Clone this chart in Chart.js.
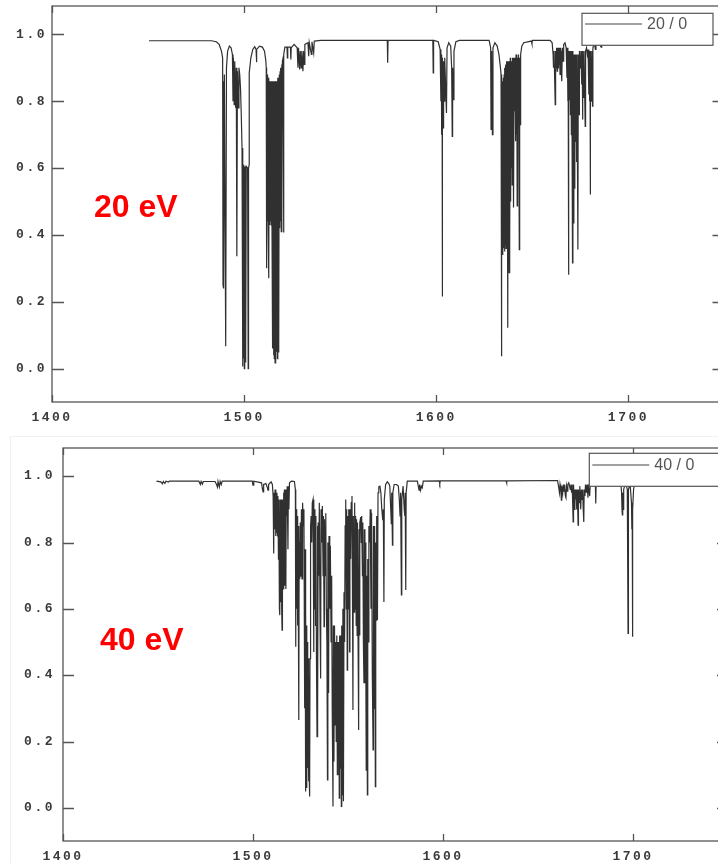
<!DOCTYPE html>
<html>
<head>
<meta charset="utf-8">
<script src="https://cdn.jsdelivr.net/npm/chart.js@4.4.1/dist/chart.umd.min.js"></script>
<style>
  html, body { margin: 0; padding: 0; background: #fff; }
  body { width: 718px; height: 863px; overflow: hidden; position: relative; }
  canvas.panel { position: absolute; left: 0; }
  #frame40 { position: absolute; left: 10px; top: 436px; width: 740px; height: 440px; border: 1px solid #f0f0f0; }
</style>
</head>
<body>
<div id="frame40"></div>
<canvas id="c20" class="panel" width="745" height="425" style="top:0"></canvas>
<canvas id="c40" class="panel" width="745" height="438" style="top:425px"></canvas>
<script>
// Axis settings
const xTicks = [1400, 1500, 1600, 1700];
const yTicks = [0.0, 0.2, 0.4, 0.6, 0.8, 1.0];
const xRange = [1400, 1750];
const yRange = [-0.1, 1.085];

// ---- 20 eV trace, [position, transmission] vertices band by band ----
const lead20 = [[1450.5,0.981],[1483.0,0.981],[1485.5,0.978],[1487.0,0.970],[1488.2,0.950]];
const band20a = [
  [1488.8,0.93],[1489.0,0.25],[1489.2,0.86],[1489.4,0.24],[1489.7,0.88],[1490.4,0.067],[1490.8,0.90],
  [1491.4,0.95],[1492.3,0.965],[1493.2,0.96],[1493.9,0.94],[1494.2,0.80],[1494.4,0.93],[1494.8,0.79],
  [1495.1,0.92],[1495.6,0.78],[1495.9,0.90],[1496.2,0.336],[1496.5,0.89],[1497.0,0.78],[1497.3,0.90],
  [1497.7,0.88],[1498.1,0.84],[1498.5,0.76],[1498.9,0.66],[1499.2,0.61],[1499.35,0.006],[1499.5,0.61],
  [1499.7,0.03],[1499.9,0.605],[1500.1,0.0],[1500.3,0.605],[1500.5,0.02],[1500.7,0.605],[1500.9,0.05],
  [1501.1,0.605],[1501.8,0.60],[1502.1,0.0],[1502.3,0.60],[1502.6,0.61],[1502.65,0.885],[1503.5,0.93],
  [1504.5,0.955],[1505.5,0.963],[1506.2,0.955],[1506.4,0.917],[1506.6,0.955],[1508.0,0.965],[1509.5,0.962],
  [1510.6,0.95],[1511.3,0.92]
];
const band20b = [
  [1511.5,0.90],[1511.7,0.30],[1511.9,0.88],[1512.1,0.44],[1512.3,0.87],[1512.5,0.43],[1512.7,0.87],
  [1512.9,0.27],[1513.1,0.86],[1513.3,0.43],[1513.5,0.86],[1513.7,0.44],[1513.9,0.86],[1514.1,0.43],
  [1514.3,0.86],[1514.5,0.42],[1514.7,0.86],[1514.9,0.06],[1515.1,0.86],[1515.3,0.04],[1515.5,0.86],
  [1515.7,0.03],[1515.9,0.86],[1516.1,0.017],[1516.3,0.86],[1516.5,0.04],[1516.7,0.86],[1516.9,0.05],
  [1517.1,0.86],[1517.3,0.03],[1517.5,0.87],[1517.7,0.05],[1517.9,0.87],[1518.1,0.07],[1518.3,0.88],
  [1518.5,0.42],[1518.7,0.89],[1518.9,0.44],[1519.1,0.90],[1519.3,0.41],[1519.5,0.91],[1519.7,0.45],
  [1519.9,0.92],[1520.3,0.93],[1520.5,0.407],[1520.7,0.94],[1521.2,0.962],[1522.3,0.962],[1522.5,0.93],
  [1522.7,0.962],[1524.1,0.962],[1524.3,0.925],[1524.5,0.96],[1526.0,0.97],[1527.6,0.96],[1528.0,0.90],
  [1528.3,0.96],[1528.9,0.895],[1529.2,0.95],[1529.7,0.90],[1530.0,0.95],[1530.6,0.89],[1530.9,0.95],
  [1531.3,0.91],[1531.6,0.97],[1533.2,0.975],[1533.6,0.935],[1533.9,0.975],[1535.0,0.94],[1535.3,0.978],
  [1536.2,0.945],[1536.5,0.98],[1540.0,0.982]
];
const band20c = [
  [1574.5,0.982],[1574.7,0.915],[1574.9,0.982],[1598.2,0.982],[1598.4,0.885],[1598.6,0.982],
  [1601.0,0.978],[1602.0,0.955],[1602.4,0.80],[1602.6,0.94],[1602.8,0.70],[1603.0,0.93],[1603.1,0.216],
  [1603.3,0.92],[1603.6,0.72],[1603.8,0.92],[1604.1,0.80],[1604.4,0.93],[1605.3,0.765],[1605.6,0.96],
  [1606.5,0.975],[1607.5,0.965],[1608.0,0.90],[1608.3,0.695],[1608.5,0.90],[1608.9,0.805],[1609.2,0.95],
  [1610.2,0.978],[1612.0,0.982]
];
const band20d = [
  [1627.5,0.982],[1628.3,0.96],[1628.5,0.716],[1628.8,0.95],[1629.2,0.70],[1629.5,0.96],[1630.5,0.975],
  [1631.7,0.965],[1632.6,0.94],[1633.4,0.90],[1633.7,0.88],[1633.9,0.037],[1634.1,0.87],[1634.3,0.35],
  [1634.5,0.86],[1634.7,0.34],[1634.9,0.87],[1635.1,0.36],[1635.3,0.88],[1635.5,0.35],[1635.7,0.90],
  [1635.9,0.37],[1636.1,0.91],[1636.3,0.36],[1636.5,0.92],[1636.7,0.38],[1636.9,0.92],[1637.2,0.122],
  [1637.4,0.92],[1637.6,0.36],[1637.8,0.91],[1637.9,0.287],[1638.1,0.92],[1638.3,0.37],[1638.5,0.93],
  [1638.7,0.50],[1638.9,0.92],[1639.1,0.60],[1639.3,0.92],[1639.5,0.55],[1639.7,0.93],[1640.0,0.70],
  [1640.1,0.93],[1640.3,0.482],[1640.5,0.93],[1640.8,0.77],[1641.0,0.93],[1641.3,0.68],[1641.5,0.94],
  [1641.8,0.70],[1642.0,0.93],[1642.1,0.487],[1642.3,0.93],[1642.6,0.73],[1642.8,0.94],[1643.2,0.356],
  [1643.4,0.93],[1643.7,0.73],[1643.9,0.94],[1644.5,0.965],[1645.5,0.975],[1649.5,0.98],[1649.8,0.972],
  [1650.0,0.982]
];
const band20e = [
  [1659.3,0.982],[1660.3,0.975],[1660.8,0.94],[1661.0,0.90],[1661.3,0.95],[1661.9,0.79],[1662.1,0.95],
  [1662.4,0.90],[1662.6,0.96],[1662.9,0.89],[1663.1,0.96],[1663.4,0.90],[1663.6,0.96],[1663.9,0.91],
  [1664.1,0.96],[1664.4,0.88],[1664.7,0.96],[1665.0,0.90],[1665.2,0.95],[1665.4,0.86],[1665.6,0.96],
  [1666.0,0.92],[1666.3,0.97],[1667.0,0.975],[1667.6,0.96],[1668.0,0.87],[1668.2,0.96],[1668.5,0.80],
  [1668.6,0.95],[1668.8,0.281],[1669.0,0.95],[1669.3,0.805],[1669.5,0.95],[1669.8,0.76],[1670.0,0.95],
  [1670.3,0.70],[1670.5,0.95],[1670.9,0.316],[1671.1,0.95],[1671.4,0.436],[1671.6,0.94],[1671.9,0.54],
  [1672.1,0.94],[1672.5,0.68],[1672.7,0.94],[1673.0,0.62],[1673.2,0.94],[1673.7,0.356],[1673.9,0.94],
  [1674.3,0.76],[1674.5,0.95],[1675.0,0.90],[1675.3,0.95],[1675.7,0.85],[1675.9,0.95],[1676.1,0.745],
  [1676.3,0.95],[1676.7,0.81],[1676.9,0.95],[1677.5,0.725],[1677.7,0.95],[1678.2,0.96],[1678.8,0.93],
  [1679.0,0.955],[1679.4,0.82],[1679.6,0.95],[1679.8,0.80],[1680.0,0.95],[1680.1,0.521],[1680.3,0.95],
  [1680.7,0.80],[1680.9,0.95],[1681.3,0.785],[1681.5,0.96],[1682.2,0.975],[1682.8,0.955],[1683.1,0.978],
  [1684.5,0.975],[1685.8,0.962],[1686.1,0.98],[1690.0,0.982],[1692.5,0.975],[1692.7,0.983],[1698.0,0.982],
  [1698.5,0.972],[1698.7,0.983],[1700.5,0.982]
];

// ---- 40 eV trace ----
const lead40 = [
  [1449.2,0.985],[1451.5,0.983],[1452.3,0.977],[1452.8,0.984],[1453.6,0.978],[1454.2,0.985],[1455.5,0.982],
  [1456.0,0.985],[1471.5,0.985],[1472.3,0.975],[1472.7,0.984],[1473.4,0.976],[1473.8,0.984],[1480.0,0.984],
  [1480.8,0.975],[1481.3,0.967],[1481.6,0.984],[1482.3,0.968],[1482.7,0.984],[1483.3,0.975],[1483.8,0.985],
  [1499.6,0.985],[1500.0,0.973],[1500.4,0.985],[1504.5,0.98],[1505.0,0.96],[1505.3,0.953],[1505.6,0.975],
  [1506.8,0.978],[1507.6,0.965],[1507.9,0.958],[1508.2,0.975],[1509.5,0.983],[1510.2,0.975]
];
const band40a = [
  [1510.6,0.94],[1510.9,0.767],[1511.1,0.95],[1511.4,0.84],[1511.6,0.96],[1511.9,0.82],[1512.1,0.96],
  [1512.4,0.83],[1512.6,0.95],[1512.9,0.82],[1513.1,0.94],[1513.4,0.75],[1513.6,0.93],[1513.9,0.60],
  [1514.1,0.581],[1514.3,0.93],[1514.6,0.62],[1514.8,0.93],[1515.1,0.60],[1515.3,0.536],[1515.5,0.93],
  [1515.8,0.66],[1516.0,0.95],[1516.3,0.66],[1516.5,0.96],[1516.8,0.67],[1517.0,0.96],[1517.3,0.66],
  [1517.5,0.96],[1517.8,0.88],[1518.0,0.97],[1518.4,0.78],[1518.6,0.97],[1518.9,0.90],[1519.2,0.98],
  [1520.2,0.985],[1521.8,0.984],[1522.3,0.96]
];
const band40b = [
  [1522.5,0.486],[1522.7,0.90],[1523.0,0.60],[1523.2,0.88],[1523.5,0.55],[1523.7,0.85],[1524.1,0.265],
  [1524.3,0.80],[1524.6,0.69],[1524.9,0.86],[1525.2,0.697],[1525.5,0.90],[1525.8,0.69],[1526.1,0.92],
  [1526.5,0.85],[1526.8,0.90],[1527.2,0.30],[1527.4,0.78],[1527.6,0.049],[1527.8,0.60],[1528.0,0.10],
  [1528.2,0.55],[1528.4,0.06],[1528.6,0.50],[1528.8,0.12],[1529.0,0.45],[1529.2,0.08],[1529.4,0.42],
  [1529.6,0.10],[1529.8,0.034],[1530.0,0.45],[1530.3,0.85],[1530.6,0.88],[1530.9,0.80],[1531.2,0.92],
  [1531.6,0.93],[1531.9,0.47],[1532.1,0.91],[1532.4,0.60],[1532.6,0.90],[1532.9,0.55],[1533.1,0.88],
  [1533.4,0.45],[1533.7,0.215],[1533.9,0.85],[1534.1,0.265],[1534.3,0.86],[1534.7,0.70],[1534.9,0.92],
  [1535.3,0.55],[1535.6,0.39],[1535.8,0.90],[1536.2,0.80],[1536.5,0.91],[1536.9,0.70],[1537.1,0.88],
  [1537.4,0.546],[1537.6,0.87],[1538.0,0.70],[1538.3,0.888],[1538.6,0.60],[1538.9,0.50],[1539.2,0.084],
  [1539.4,0.80],[1539.8,0.346],[1540.0,0.82],[1540.4,0.60],[1540.7,0.79],[1541.1,0.50],[1541.4,0.70],
  [1541.7,0.30],[1542.1,0.004],[1542.3,0.55],[1542.6,0.14],[1542.9,0.55],[1543.2,0.25],[1543.5,0.50],
  [1543.8,0.20],[1544.1,0.52],[1544.4,0.10],[1544.7,0.50],[1545.0,0.15],[1545.2,0.50],[1545.4,0.029],
  [1545.6,0.52],[1545.9,0.12],[1546.1,0.52],[1546.5,0.004],[1546.7,0.55],[1547.0,0.04],[1547.3,0.60],
  [1547.6,0.02],[1547.9,0.65],[1548.2,0.50],[1548.5,0.85],[1548.8,0.93],[1549.1,0.60],[1549.3,0.90],
  [1549.6,0.415],[1549.8,0.88],[1550.2,0.60],[1550.4,0.90],[1550.8,0.47],[1551.0,0.90],[1551.4,0.75],
  [1551.7,0.92],[1552.1,0.94],[1552.4,0.60],[1552.6,0.295],[1552.8,0.88],[1553.2,0.59],[1553.5,0.92],
  [1553.8,0.60],[1554.0,0.88]
];
const band40c = [
  [1554.3,0.55],[1554.5,0.87],[1554.8,0.52],[1555.0,0.86],[1555.3,0.50],[1555.6,0.235],[1555.8,0.84],
  [1556.1,0.52],[1556.3,0.86],[1556.7,0.877],[1557.0,0.80],[1557.2,0.88],[1557.6,0.70],[1557.8,0.86],
  [1558.1,0.50],[1558.4,0.376],[1558.6,0.84],[1558.9,0.376],[1559.1,0.80],[1559.4,0.40],[1559.6,0.114],
  [1559.8,0.70],[1560.2,0.039],[1560.4,0.75],[1560.8,0.50],[1561.0,0.85],[1561.4,0.80],[1561.7,0.90],
  [1562.1,0.60],[1562.4,0.89],[1562.8,0.40],[1563.2,0.175],[1563.4,0.85],[1563.8,0.30],[1564.0,0.85],
  [1564.4,0.064],[1564.6,0.80],[1564.9,0.566],[1565.1,0.88],[1565.5,0.566],[1565.8,0.95],[1566.2,0.968],
  [1566.8,0.97],[1567.3,0.95],[1567.8,0.90],[1568.3,0.867],[1568.6,0.90],[1568.9,0.621],[1569.1,0.93],
  [1569.8,0.975],[1570.7,0.983],[1571.5,0.978],[1572.0,0.97],[1572.5,0.90],[1572.8,0.857],[1573.0,0.95],
  [1573.4,0.792],[1573.6,0.95],[1574.3,0.975],[1575.5,0.975],[1576.5,0.97],[1577.0,0.93],[1577.4,0.88],
  [1577.7,0.95],[1578.1,0.642],[1578.3,0.93],[1579.0,0.97],[1579.6,0.90],[1579.9,0.88],[1580.1,0.95],
  [1580.4,0.657],[1580.6,0.95],[1581.2,0.985]
];
const band40d = [
  [1586.5,0.985],[1587.0,0.97],[1587.4,0.958],[1587.7,0.975],[1588.2,0.958],[1588.6,0.97],[1589.1,0.965],
  [1589.6,0.985],[1598.0,0.986],[1598.3,0.978],[1598.6,0.986],[1633.2,0.986],[1633.4,0.98],[1633.6,0.986],
  [1660.3,0.987],[1660.8,0.97],[1661.3,0.95],[1661.6,0.975],[1662.0,0.96],[1662.3,0.928],[1662.5,0.97],
  [1663.0,0.95],[1663.3,0.975],[1663.7,0.955],[1664.0,0.975],[1664.4,0.94],[1664.7,0.935],[1665.0,0.97],
  [1665.4,0.955],[1665.7,0.975],[1666.2,0.98],[1667.0,0.96],[1667.3,0.975],[1667.7,0.95],[1668.0,0.975],
  [1668.5,0.862],[1668.7,0.975],[1669.1,0.90],[1669.4,0.96],[1669.8,0.93],[1670.0,0.96],[1670.4,0.90],
  [1670.7,0.96],[1671.1,0.852],[1671.3,0.96],[1671.7,0.92],[1672.0,0.97],[1672.5,0.90],[1672.8,0.96],
  [1673.2,0.93],[1673.5,0.96],[1673.8,0.90],[1674.1,0.862],[1674.3,0.96],[1674.7,0.94],[1675.0,0.975],
  [1675.5,0.95],[1675.8,0.975],[1676.3,0.935],[1676.5,0.975],[1677.2,0.94],[1677.5,0.978],[1678.3,0.983],
  [1680.2,0.975],[1680.4,0.918],[1680.6,0.983],[1682.0,0.986]
];
const band40e = [
  [1693.5,0.986],[1694.0,0.95],[1694.2,0.90],[1694.4,0.883],[1694.6,0.95],[1694.9,0.90],[1695.1,0.96],
  [1695.6,0.97],[1696.3,0.975],[1697.0,0.96],[1697.4,0.526],[1697.6,0.96],[1698.5,0.975],[1699.2,0.92],
  [1699.4,0.84],[1699.6,0.88],[1699.7,0.516],[1699.9,0.90],[1700.3,0.96],[1701.0,0.984],[1703.0,0.986]
];

const trace20 = [].concat(lead20, band20a, band20b, band20c, band20d, band20e);
const trace40 = [].concat(lead40, band40a, band40b, band40c, band40d, band40e);

const tickFont = { family: '"Liberation Mono", "DejaVu Sans Mono", monospace', size: 13, weight: 'bold' };

// Boxed frame with inward ticks on all four sides, the legend box and the energy tag
const framePlugin = {
  id: 'frameTicks',
  beforeDraw(chart) { chart.ctx.letterSpacing = '2.5px'; },
  afterDraw(chart, args, o) {
    const { ctx, chartArea: a, scales: { x, y } } = chart;
    ctx.save();
    ctx.letterSpacing = '0px';
    ctx.strokeStyle = '#555';
    ctx.lineWidth = 1.3;
    ctx.strokeRect(a.left, a.top, a.right - a.left, a.bottom - a.top);
    ctx.beginPath();
    yTicks.forEach(v => {
      const p = Math.round(y.getPixelForValue(v)) + 0.5;
      ctx.moveTo(a.left, p); ctx.lineTo(a.left + o.yLen, p);
      ctx.moveTo(a.right, p); ctx.lineTo(a.right - o.yLen, p);
    });
    xTicks.forEach(v => {
      const p = Math.round(x.getPixelForValue(v)) + 0.5;
      ctx.moveTo(p, a.bottom); ctx.lineTo(p, a.bottom - o.xLen);
      ctx.moveTo(p, a.top); ctx.lineTo(p, a.top + o.xLen);
    });
    ctx.stroke();

    const lb = o.legend;
    const bx = a.right - lb.right - lb.w, by = a.top + lb.top;
    ctx.fillStyle = '#fff';
    ctx.fillRect(bx, by, lb.w, lb.h);
    ctx.strokeStyle = '#555';
    ctx.lineWidth = 1.2;
    ctx.strokeRect(bx, by, lb.w, lb.h);
    const ly = by + lb.lineY;
    ctx.beginPath();
    ctx.moveTo(bx + 3, ly); ctx.lineTo(bx + 60, ly);
    ctx.strokeStyle = '#444'; ctx.lineWidth = 1;
    ctx.stroke();
    ctx.fillStyle = '#555';
    ctx.font = '16px "Liberation Sans", Arial, sans-serif';
    ctx.textAlign = 'left';
    ctx.textBaseline = 'middle';
    ctx.fillText(chart.data.datasets[0].label, bx + 65, ly + 1);

    ctx.fillStyle = '#ff0000';
    ctx.font = 'bold 32px "Liberation Sans", Arial, sans-serif';
    ctx.textBaseline = 'alphabetic';
    ctx.fillText(o.tag, o.tagX, o.tagY);
    ctx.restore();
  }
};

function spectrumChart(id, trace, label, cfg) {
  return new Chart(document.getElementById(id), {
    type: 'line',
    data: {
      datasets: [{
        label,
        data: trace.map(([x, y]) => ({ x, y })),
        borderColor: '#303030',
        borderWidth: 1.2,
        pointRadius: 0,
        tension: 0,
        fill: false
      }]
    },
    options: {
      responsive: false,
      animation: false,
      events: [],
      layout: { padding: cfg.pad },
      plugins: {
        legend: { display: false },
        tooltip: { enabled: false },
        frameTicks: cfg.frame
      },
      scales: {
        x: {
          type: 'linear', min: xRange[0], max: xRange[1],
          grid: { display: false, drawTicks: false }, border: { display: false },
          afterBuildTicks: s => { s.ticks = xTicks.map(v => ({ value: v })); },
          afterFit: s => { s.height = cfg.xH; },
          ticks: { color: '#3a3a3a', font: tickFont, padding: 8, maxRotation: 0, autoSkip: false,
                   callback: v => String(v) }
        },
        y: {
          type: 'linear', min: yRange[0], max: yRange[1],
          grid: { display: false, drawTicks: false }, border: { display: false },
          afterBuildTicks: s => { s.ticks = yTicks.map(v => ({ value: v })); },
          afterFit: s => { s.width = cfg.yW; s.paddingTop = 0; s.paddingBottom = 0; },
          ticks: { color: '#3a3a3a', font: tickFont, padding: cfg.yPad, callback: v => v.toFixed(1) }
        }
      }
    },
    plugins: [framePlugin]
  });
}

spectrumChart('c20', trace20, '20 / 0', {
  pad: { left: 0, top: 6, right: 20.5, bottom: 0 },
  yW: 52, xH: 23, yPad: 5,
  frame: { yLen: 12, xLen: 7, tag: '20 eV', tagX: 94, tagY: 217,
           legend: { w: 131, h: 32, right: 11.5, top: 7.3, lineY: 10.7 } }
});

spectrumChart('c40', trace40, '40 / 0', {
  pad: { left: 0, top: 23, right: 17, bottom: 0 },
  yW: 63, xH: 22, yPad: 8,
  frame: { yLen: 11, xLen: 7, tag: '40 eV', tagX: 100, tagY: 225,
           legend: { w: 131, h: 33, right: 7.7, top: 5.3, lineY: 11.7 } }
});
</script>
</body>
</html>
